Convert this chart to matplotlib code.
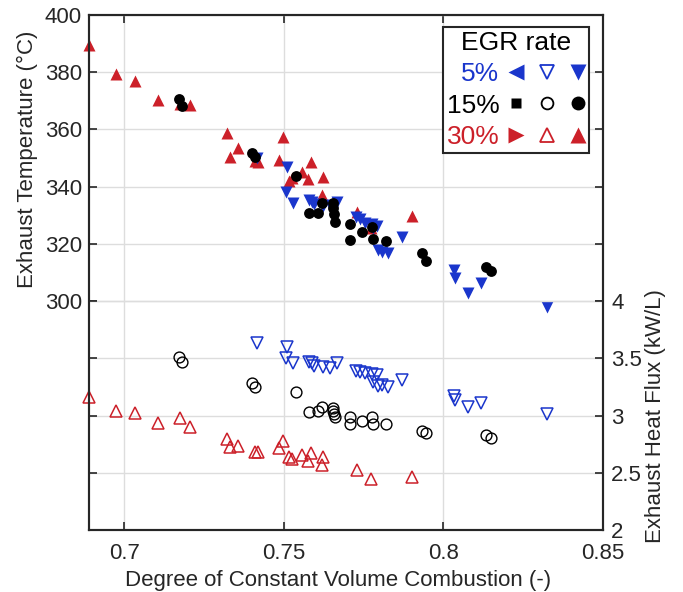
import matplotlib.pyplot as plt
from matplotlib.legend_handler import HandlerTuple
from matplotlib.lines import Line2D

plt.rcParams['font.family'] = ['Liberation Sans', 'DejaVu Sans']

# 5% EGR
x_5 = [0.7416, 0.7509, 0.7506, 0.7528, 0.7578, 0.7588, 0.7594, 0.7622, 0.7644, 0.7666,
       0.7725, 0.7738, 0.7756, 0.7775, 0.7791, 0.7778, 0.7794, 0.7809, 0.7825, 0.7869,
       0.8034, 0.8035, 0.8078, 0.8119, 0.8325]
temp_5 = [350.0, 346.9, 338.1, 334.3, 335.3, 334.6, 333.9, 333.2, 333.6, 334.6,
          329.4, 328.7, 327.3, 326.9, 326.2, 325.5, 317.8, 317.1, 316.8, 322.4,
          310.8, 308.0, 302.8, 306.3, 297.9]
flux_5 = [3.632, 3.596, 3.500, 3.456, 3.465, 3.456, 3.430, 3.421, 3.412, 3.456,
          3.386, 3.377, 3.368, 3.360, 3.351, 3.289, 3.254, 3.263, 3.246, 3.307,
          3.175, 3.140, 3.079, 3.114, 3.018]

# 15% EGR
x_15 = [0.7172, 0.7181, 0.7400, 0.7409, 0.7538, 0.7578, 0.7606, 0.7619, 0.7653, 0.7653,
        0.7656, 0.7659, 0.7709, 0.7706, 0.7744, 0.7775, 0.7778, 0.7819, 0.7934, 0.7947,
        0.8134, 0.8150]
temp_15 = [370.6, 368.2, 351.7, 350.3, 343.7, 330.8, 330.8, 334.3, 334.3, 332.5,
           330.4, 327.6, 326.9, 321.3, 324.1, 325.9, 321.7, 321.0, 316.8, 314.0,
           311.9, 310.5]
flux_15 = [3.509, 3.465, 3.281, 3.246, 3.202, 3.035, 3.044, 3.079, 3.070, 3.044,
           3.018, 2.991, 2.991, 2.930, 2.956, 2.991, 2.930, 2.930, 2.868, 2.851,
           2.833, 2.807]

# 30% EGR
x_30 = [0.6891, 0.6975, 0.7034, 0.7106, 0.7175, 0.7206, 0.7322, 0.7331, 0.7356, 0.7409,
        0.7419, 0.7484, 0.7497, 0.7516, 0.7525, 0.7556, 0.7575, 0.7584, 0.7622, 0.7619,
        0.7728, 0.7772, 0.7903]
temp_30 = [389.5, 379.4, 376.9, 370.3, 368.9, 368.7, 358.7, 350.3, 353.5, 349.0,
           348.6, 349.3, 357.3, 342.0, 343.0, 345.1, 342.7, 348.6, 343.4, 337.1,
           331.1, 325.5, 329.7]
flux_30 = [3.158, 3.044, 3.026, 2.939, 2.982, 2.904, 2.798, 2.728, 2.737, 2.684,
           2.684, 2.719, 2.781, 2.640, 2.623, 2.658, 2.605, 2.675, 2.640, 2.570,
           2.526, 2.447, 2.465]

blue = '#1a36cc'
black = '#000000'
red = '#cc2029'
axis_col = '#262626'

fig = plt.figure(figsize=(6.83, 5.92), dpi=100)
ax = fig.add_axes([0.1303, 0.1047, 0.7526, 0.87])
ax2 = ax.twinx()

# temperatures (filled) on left axis
ax.plot(x_30, temp_30, '^', color=red, ms=9, mec='none', zorder=3, clip_on=False)
ax.plot(x_5, temp_5, 'v', color=blue, ms=9, mec='none', zorder=3, clip_on=False)
ax.plot(x_15, temp_15, 'o', color=black, ms=7.8, mec='none', zorder=3, clip_on=False)

# heat flux (open) on right axis
ax2.plot(x_5, flux_5, 'v', mfc='none', mec=blue, ms=8.5, mew=1.1, clip_on=False)
ax2.plot(x_15, flux_15, 'o', mfc='none', mec=black, ms=7.8, mew=1.0, clip_on=False)
ax2.plot(x_30, flux_30, '^', mfc='none', mec=red, ms=8.5, mew=1.1, clip_on=False)

ax.set_xlim(0.689, 0.85)
ax.set_ylim(220, 400)
ax2.set_ylim(2, 6.5)
ax.set_xticks([0.7, 0.75, 0.8, 0.85])
ax.set_xticklabels(['0.7', '0.75', '0.8', '0.85'])
ax.set_yticks([300, 320, 340, 360, 380, 400])
ax2.set_yticks([2, 2.5, 3, 3.5, 4])
ax2.set_yticklabels(['2', '2.5', '3', '3.5', '4'])

for a in (ax, ax2):
    a.set_axisbelow(True)
    for s in a.spines.values():
        s.set_color(axis_col)
        s.set_linewidth(1.5)
ax.grid(True, color='#dddddd', linewidth=1.0)
ax2.grid(True, axis='y', color='#dddddd', linewidth=1.0)
ax.tick_params(direction='in', length=6, width=1.2, colors=axis_col, labelsize=16,
               top=True, right=True, pad=5)
ax.tick_params(axis='x', pad=9)
ax2.tick_params(direction='in', length=6, width=1.2, colors=axis_col, labelsize=16,
                left=True, pad=6)

ax.set_xlabel('Degree of Constant Volume Combustion (-)', fontsize=16, color=axis_col)
ax.set_ylabel('Exhaust Temperature (°C)', fontsize=16, color=axis_col)
ax2.set_ylabel('Exhaust Heat Flux (kW/L)', fontsize=16, color=axis_col)
ax.xaxis.set_label_coords(0.4855, -0.0777)
ax.yaxis.set_label_coords(-0.099, 0.72)
ax2.yaxis.set_label_coords(1.082, 0.221)

# legend: colored labels followed by three markers per EGR rate
def mk(m, c, filled, ms):
    if filled:
        return Line2D([], [], ls='none', marker=m, color=c, mec='none', ms=ms)
    return Line2D([], [], ls='none', marker=m, mfc='none', mec=c, ms=ms, mew=1.3)

handles = [
    (mk('<', blue, True, 11), mk('v', blue, False, 10), mk('v', blue, True, 11)),
    (mk('s', black, True, 6.5), mk('o', black, False, 8.5), mk('o', black, True, 10)),
    (mk('>', red, True, 11), mk('^', red, False, 10), mk('^', red, True, 11)),
]
labels = ['5%', '15%', '30%']
leg = ax2.legend(handles, labels, handler_map={tuple: HandlerTuple(ndivide=None, pad=0.6)},
                 markerfirst=False, title='EGR rate', loc='upper right',
                 bbox_to_anchor=(0.973, 0.977), fontsize=19, title_fontsize=19,
                 handlelength=2.9, handletextpad=0.35, labelspacing=0.28,
                 borderpad=0.15, borderaxespad=0, fancybox=False, framealpha=1,
                 edgecolor=axis_col)
leg.get_frame().set_linewidth(1.5)
for t, c in zip(leg.get_texts(), [blue, black, red]):
    t.set_color(c)

fig.savefig('out.png', dpi=100)
